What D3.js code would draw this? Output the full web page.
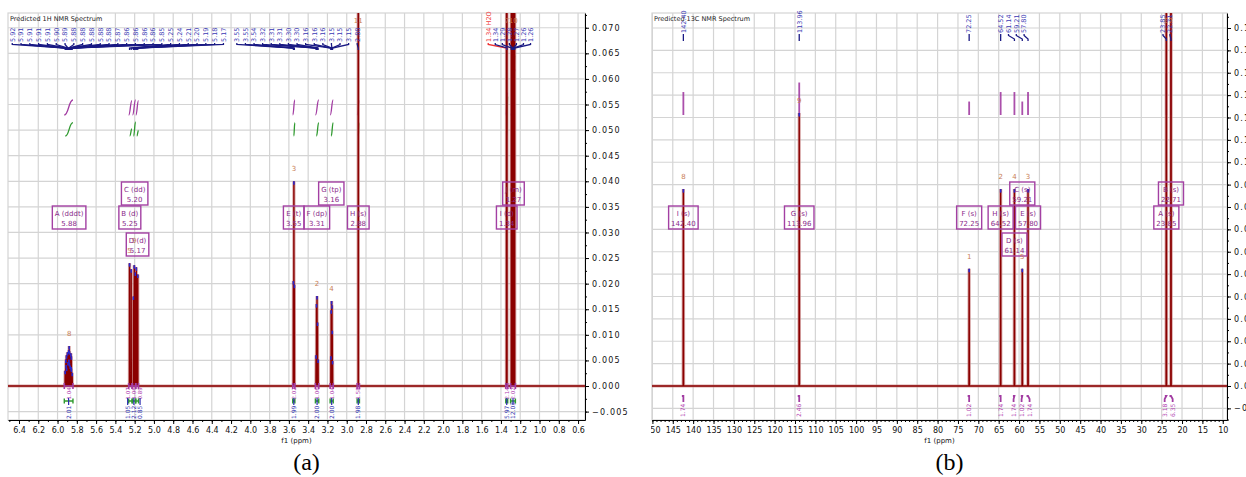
<!DOCTYPE html>
<html>
<head>
<meta charset="utf-8">
<title>Predicted 1H and 13C NMR spectra</title>
<script src="https://cdn.jsdelivr.net/npm/d3@7/dist/d3.min.js"></script>
<style>
  body { margin: 0; background: #fff; }
  svg { display: block; font-family: "DejaVu Sans", Verdana, sans-serif; }
</style>
</head>
<body>
<svg id="chart" width="1246" height="477"></svg>
<script>
// ---------- 1H: picked lines (ppm) and heights ----------
const hLinePpm = [
  5.921, 5.914, 5.911, 5.907, 5.906, 5.897, 5.891, 5.884, 5.882, 5.879, 5.877, 5.876, 5.869, 5.862, 5.859, 5.857, 5.856, 5.848,
  5.253, 5.236, 5.213, 5.204, 5.194, 5.183, 5.168,
  3.553, 3.548, 3.543,
  3.318, 3.313, 3.308, 3.303, 3.297,
  3.164, 3.161, 3.157, 3.153, 3.150, 3.147,
  2.880,
  1.342, 1.338, 1.292, 1.278, 1.272, 1.264, 1.258
];
const hLineHeight = [
  0.0030, 0.0052, 0.0041, 0.0060, 0.0036, 0.0066, 0.0047, 0.0070, 0.0052, 0.0078, 0.0045, 0.0068, 0.0040, 0.0064, 0.0037, 0.0058, 0.0034, 0.0026,
  0.0240, 0.0228, 0.0175, 0.0236, 0.0222, 0.0232, 0.0218,
  0.0205, 0.0400, 0.0198,
  0.0060, 0.0160, 0.0176, 0.0124, 0.0052,
  0.0058, 0.0148, 0.0166, 0.0158, 0.0108, 0.0049,
  0.300,
  0.120, 0.160, 0.100, 0.220, 0.300, 0.250, 0.150
];
const hWaterPpm = 1.342;

// ---------- 1H: multiplets and integrals ----------
const hMultName = ["A", "B", "C", "D", "E", "F", "G", "H", "I", "J"];
const hMultKind = ["dddt", "d", "dd", "d", "t", "dp", "tp", "s", "d", "m"];
const hMultPpm = [5.88, 5.25, 5.20, 5.17, 3.55, 3.31, 3.16, 2.88, 1.34, 1.27];
const hMultAtom = ["8", "5", "9", "", "3", "2", "4", "11", "7", "10"];
const hIntFrom = [5.930, 5.262, 5.222, 5.188, 3.560, 3.325, 3.172, 2.892, 1.350, 1.300];
const hIntTo = [5.840, 5.228, 5.190, 5.160, 3.538, 3.290, 3.140, 2.868, 1.330, 1.250];
const hIntMult = [1.04, 1.07, 1.06, 0.89, 2.02, 1.06, 1.04, 1.58, 2.14, 2.02];
const hIntTotal = [2.01, 1.05, 2.12, 0.85, 1.99, 2.00, 2.00, 1.98, 5.97, 12.03];
const hIntCurve = [2.0, 1.9, 2.0, 1.9, 2.0, 2.0, 2.0, 1.9, 3.0, 6.0];

// ---------- 13C: lines, multiplets, integrals ----------
const cLinePpm = [142.40, 113.96, 72.25, 64.52, 61.14, 59.21, 57.80, 23.85, 22.71];
const cLineHeight = [0.088, 0.122, 0.0524, 0.088, 0.088, 0.0524, 0.088, 0.35, 0.70];
const cMultName = ["I", "G", "F", "H", "D", "C", "E", "A", "B"];
const cMultAtom = ["8", "9", "1", "2", "4", "5", "3", "6", "7"];
const cIntVal = [1.74, 2.46, 1.02, 1.74, 1.74, 1.02, 1.74, 3.18, 6.35];

// ---------- axis ticks ----------
const hTicksX = d3.range(64, 5, -2).map(v => v / 10);
const hTicksXMinor = d3.range(65, 5, -1).map(v => v / 10);
const hTicksY = d3.range(-1, 15).map(v => +(v * 0.005).toFixed(3));
const hTicksYMinor = d3.range(-2, 30).map(v => +(v * 0.0025).toFixed(4));
const cTicksX = d3.range(150, 9, -5);
const cTicksXMinor = d3.range(150, 9, -1);
const cTicksY = d3.range(-1, 17).map(v => +(v * 0.01).toFixed(2));
const cTicksYMinor = d3.range(-3, 34).map(v => +(v * 0.005).toFixed(3));

// ---------- layout ----------
const hPanel = {
  id: "h", left: 8, right: 585, top: 13, bottom: 420,
  xDomain: [6.514, 0.528], yDomain: [0.07288, -0.00664],
  ticksX: hTicksX, ticksXMinor: hTicksXMinor, ticksY: hTicksY, ticksYMinor: hTicksYMinor,
  yFormat: d3.format(".3f"), xFormat: d3.format(".1f"),
  title: "Predicted 1H NMR Spectrum", tag: "(a)"
};
const cPanel = {
  id: "c", left: 652, right: 1227, top: 13, bottom: 420,
  xDomain: [150.1, 8.96], yDomain: [0.1667, -0.0152],
  ticksX: cTicksX, ticksXMinor: cTicksXMinor, ticksY: cTicksY, ticksYMinor: cTicksYMinor,
  yFormat: d3.format(".2f"), xFormat: d3.format("d"),
  title: "Predicted 13C NMR Spectrum", tag: "(b)"
};
// label runs for the peak-pick labels along the top (anchor in ppm, step in px)
const hPickRuns = [{ n: 25, at: 6.47, step: 8.8 }, { n: 15, at: 4.14, step: 8.6 }, { n: 7, at: 1.532, step: 7.05 }];
const cPickRuns = [{ n: 1 }, { n: 1 }, { n: 1 }, { n: 4, at: 64.51, step: 7.8 }, { n: 2, at: 24.67, step: 7 }];
const hBoxTier = [0, 0, 1, -1, 0, 0, 1, 0, 0, 1];
const cBoxTier = [0, 0, 0, 0, -1, 1, 0, 0, 1];
const tierTop = { "1": 182, "0": 206, "-1": 233 };

const RED = "#8b0000", RED_HALO = "#c98a8a";
const PICK_BLUE = "#3a3ab4", TREE_BLUE = "#1a1a84";
const PURPLE = "#a23ca2", GREEN = "#2f9a2f", ATOM = "#c97e56";

const svg = d3.select("#chart");
const defs = svg.append("defs");
const fmt2 = d3.format(".2f");

function setupPanel(p) {
  const x = d3.scaleLinear().domain(p.xDomain).range([p.left, p.right]);
  const y = d3.scaleLinear().domain(p.yDomain).range([p.top, p.bottom]);
  const g = svg.append("g");
  defs.append("clipPath").attr("id", "clip-" + p.id).append("rect")
    .attr("x", p.left).attr("y", p.top).attr("width", p.right - p.left).attr("height", p.bottom - p.top);
  defs.append("clipPath").attr("id", "axclip-" + p.id).append("rect")
    .attr("x", p.left - 1).attr("y", p.bottom - 2).attr("width", p.right - p.left + 12).attr("height", 40);

  // grid
  const grid = g.append("g").attr("stroke", "#d4d4d4").attr("stroke-width", 1.2).attr("fill", "none");
  grid.append("rect").attr("x", p.left).attr("y", p.top)
    .attr("width", p.right - p.left).attr("height", p.bottom - p.top);
  grid.selectAll("line.gx").data(p.ticksX).join("line").attr("class", "gx")
    .attr("x1", d => x(d)).attr("x2", d => x(d)).attr("y1", p.top).attr("y2", p.bottom);
  grid.selectAll("line.gy").data(p.ticksY).join("line").attr("class", "gy")
    .attr("x1", p.left).attr("x2", p.right).attr("y1", d => y(d)).attr("y2", d => y(d));

  g.append("text").attr("x", p.left + 2).attr("y", p.top + 7.5)
    .attr("font-size", 6.5).attr("fill", "#222").text(p.title);
  return { p, x, y, g };
}

function drawAxes(P) {
  const { p, x, y, g } = P;
  // x axis, clipped at the panel's left edge like the reference
  const ax = g.append("g").attr("clip-path", `url(#axclip-${p.id})`)
    .append("g").attr("transform", `translate(0,${p.bottom})`)
    .call(d3.axisBottom(x).tickValues(p.ticksX).tickSize(4).tickSizeOuter(0).tickFormat(p.xFormat));
  ax.attr("font-family", null).attr("font-size", null);
  ax.selectAll("text").attr("font-size", 8).attr("fill", "#111").attr("dy", "0.8em");
  g.append("g").attr("transform", `translate(0,${p.bottom})`)
    .call(d3.axisBottom(x).tickValues(p.ticksXMinor).tickSize(2).tickSizeOuter(0).tickFormat(""))
    .call(s => s.select(".domain").remove());

  const ay = g.append("g").attr("transform", `translate(${p.right},0)`)
    .call(d3.axisRight(y).tickValues(p.ticksY).tickSize(4).tickSizeOuter(0).tickFormat(p.yFormat));
  ay.attr("font-family", null).attr("font-size", null);
  ay.selectAll("text").attr("font-size", 8).attr("letter-spacing", 1.2).attr("fill", "#111");
  g.append("g").attr("transform", `translate(${p.right},0)`)
    .call(d3.axisRight(y).tickValues(p.ticksYMinor).tickSize(2).tickSizeOuter(0).tickFormat(""))
    .call(s => s.select(".domain").remove());

  const cx = (p.left + p.right) / 2;
  g.append("text").attr("x", cx).attr("y", p.bottom + 23).attr("text-anchor", "middle")
    .attr("font-size", 7).attr("fill", "#111").text("f1 (ppm)");
  g.append("text").attr("x", cx + 10).attr("y", 470).attr("text-anchor", "middle")
    .attr("font-family", '"Liberation Serif", "Times New Roman", serif')
    .attr("font-size", 24).attr("fill", "#000").text(p.tag);
}

function drawSpectrum(P, lines, halfWidth) {
  const { p, x, y, g } = P;
  const sorted = lines.slice().sort((a, b) => b.ppm - a.ppm);
  const pts = [[p.xDomain[0], 0]];
  sorted.forEach(l => pts.push([l.ppm + halfWidth, 0], [l.ppm, l.h], [l.ppm - halfWidth, 0]));
  pts.push([p.xDomain[1], 0]);
  const line = d3.line().x(d => x(d[0])).y(d => y(d[1]));
  const gs = g.append("g").attr("clip-path", `url(#clip-${p.id})`).attr("fill", "none");
  gs.append("path").attr("d", line(pts)).attr("stroke", RED_HALO).attr("stroke-width", 3.2).attr("opacity", 0.75);
  gs.append("path").attr("d", line(pts)).attr("stroke", RED).attr("stroke-width", 1.4);
  // peak-top pick marks
  gs.selectAll("line.pk").data(sorted.filter(l => y(l.h) > p.top + 2)).join("line").attr("class", "pk")
    .attr("x1", d => x(d.ppm)).attr("x2", d => x(d.ppm))
    .attr("y1", d => y(d.h)).attr("y2", d => y(d.h) + 3.5)
    .attr("stroke", "#2828d0").attr("stroke-width", 1.6);
}

function vtext(sel, x, yBottom, str, size, fill) {
  return sel.append("text").attr("transform", `translate(${x},${yBottom}) rotate(-90)`)
    .attr("dy", "0.35em").attr("font-size", size).attr("fill", fill).text(str);
}

function drawPicks(P, picks, runs, base) {
  const { x, g } = P;
  const gp = g.append("g").attr("fill", "none");
  let k = 0;
  runs.forEach(r => {
    for (let j = 0; j < r.n; j++, k++) {
      const pk = picks[k];
      pk.lx = r.at !== undefined ? x(r.at) + j * r.step : x(pk.ppm);
    }
  });
  picks.forEach(pk => {
    const px = x(pk.ppm);
    const water = pk.note !== "";
    gp.append("polyline")
      .attr("points", [[pk.lx, base + 1], [pk.lx, base + 2.5], [px, base + 6], [px, base + 8]].join(" "))
      .attr("stroke", water ? "#f03030" : TREE_BLUE).attr("stroke-width", 1.3);
    vtext(gp, pk.lx, base, water ? `${fmt2(pk.ppm)} ${pk.note}` : fmt2(pk.ppm), 6.5,
      water ? "#f04040" : PICK_BLUE);
  });
}

function drawMultiplets(P, mults, lines) {
  const { p, x, y, g } = P;
  const gb = g.append("g");
  const placed = [];
  mults.forEach(m => {
    // atom assignment label above the tallest line of the multiplet
    const inside = lines.filter(l => l.ppm <= m.from && l.ppm >= m.to);
    const top = d3.greatest(inside, l => l.h);
    if (m.atom && top) {
      const ax = x(top.ppm);
      let ay = Math.max(y(top.h) - 10, p.top + 10);
      if (ay > p.top + 12) {
        while (placed.some(q => Math.abs(q[0] - ax) < 6 && Math.abs(q[1] - ay) < 6)) ay -= 6;
      }
      placed.push([ax, ay]);
      gb.append("text").attr("x", ax).attr("y", ay)
        .attr("text-anchor", "middle").attr("font-size", 7).attr("fill", ATOM).text(m.atom);
    }
    // multiplet box
    const bx = x(m.ppm), by = tierTop[m.tier];
    const box = gb.append("g");
    const t1 = box.append("text").attr("x", bx).attr("y", by + 9.5).attr("text-anchor", "middle")
      .attr("font-size", 7).attr("fill", "#8a2a8a").text(`${m.name} (${m.kind})`);
    const t2 = box.append("text").attr("x", bx).attr("y", by + 19.5).attr("text-anchor", "middle")
      .attr("font-size", 7).attr("fill", "#8a2a8a").text(fmt2(m.ppm));
    const w = Math.max(t1.node().getComputedTextLength(), t2.node().getComputedTextLength()) + 5;
    box.insert("rect", "text").attr("x", bx - w / 2).attr("y", by).attr("width", w).attr("height", 23)
      .attr("fill", "none").attr("stroke", "#a340a3").attr("stroke-width", 1.4);
  });
}

function dodge(xs, gap) {
  const order = d3.range(xs.length).sort((a, b) => xs[a] - xs[b]);
  const pos = order.map(i => xs[i]);
  for (let it = 0; it < 80; it++) {
    for (let k = 0; k < pos.length - 1; k++) {
      const d = pos[k + 1] - pos[k];
      if (d < gap) { const s = (gap - d) / 2; pos[k] -= s; pos[k + 1] += s; }
    }
  }
  const out = new Array(xs.length);
  order.forEach((i, k) => { out[i] = pos[k]; });
  return out;
}

function sCurve(x0, x1, yb, yt) {
  const xm = (x0 + x1) / 2;
  return `M${x0},${yb}C${xm},${yb} ${xm},${yt} ${x1},${yt}`;
}

// ================= 1H panel =================
const HP = setupPanel(hPanel);
const hLines = hLinePpm.map((ppm, i) => ({ ppm, h: hLineHeight[i] }));
const hPicks = hLines.map(l => ({ ppm: l.ppm, note: l.ppm === hWaterPpm ? "H2O" : "" }))
  .sort((a, b) => b.ppm - a.ppm);
const hMults = hMultName.map((name, i) => ({
  name, kind: hMultKind[i], ppm: hMultPpm[i], atom: hMultAtom[i],
  from: hIntFrom[i], to: hIntTo[i], mult: hIntMult[i], total: hIntTotal[i],
  curve: hIntCurve[i], tier: hBoxTier[i]
}));

// integral curves (purple: multiplet integrals, green: total integrals)
{
  const { x, g } = HP;
  const gi = g.append("g").attr("fill", "none").attr("stroke-width", 1.3);
  hMults.forEach(m => {
    gi.append("path").attr("d", sCurve(x(m.from), x(m.to), 115, 115 - m.curve * 7.5)).attr("stroke", PURPLE);
    gi.append("path").attr("d", sCurve(x(m.from) + 1, x(m.to), 136, 136 - m.total * 6.65)).attr("stroke", GREEN);
  });
}
drawSpectrum(HP, hLines, 0.0012);

// range markers and integral values under the baseline
{
  const { x, y, g } = HP;
  const y0 = y(0);
  const gu = g.append("g").attr("fill", "none");
  const centers = hMults.map(m => x((m.from + m.to) / 2));
  const lx = dodge(centers, 6.2);
  hMults.forEach((m, i) => {
    const a = x(m.from), b = x(m.to);
    gu.append("path").attr("d", `M${a},${y0 - 3}V${y0 + 3}M${a},${y0}H${b}M${b},${y0 - 3}V${y0 + 3}`)
      .attr("stroke", PURPLE).attr("stroke-width", 1.6);
    vtext(gu, lx[i], 399.5, fmt2(m.mult), 5.5, "#b040b0");
    gu.append("path").attr("d", `M${a},398.5V403.5M${a},401H${b}M${b},398.5V403.5`)
      .attr("stroke", GREEN).attr("stroke-width", 1.4);
    gu.append("line").attr("x1", lx[i]).attr("x2", lx[i]).attr("y1", 398).attr("y2", 405)
      .attr("stroke", "#2a2ab0").attr("stroke-width", 1.2);
    vtext(gu, lx[i], 419, fmt2(m.total), 6, "#3030b0");
  });
}
drawMultiplets(HP, hMults, hLines);
drawPicks(HP, hPicks, hPickRuns, 42);
drawAxes(HP);

// ================= 13C panel =================
const CP = setupPanel(cPanel);
const cLines = cLinePpm.map((ppm, i) => ({ ppm, h: cLineHeight[i] }));
const cPicks = cLines.map(l => ({ ppm: l.ppm, note: "" })).sort((a, b) => b.ppm - a.ppm);
const cMults = cMultName.map((name, i) => ({
  name, kind: "s", ppm: cLinePpm[i], atom: cMultAtom[i],
  from: cLinePpm[i] + 0.3, to: cLinePpm[i] - 0.3, val: cIntVal[i], tier: cBoxTier[i]
}));

{
  const { x, g } = CP;
  const gi = g.append("g");
  cMults.forEach(m => {
    gi.append("line").attr("x1", x(m.ppm)).attr("x2", x(m.ppm))
      .attr("y1", 115).attr("y2", 115 - m.val * 13.2)
      .attr("stroke", PURPLE).attr("stroke-width", 1.8).attr("opacity", 0.9);
  });
}
drawSpectrum(CP, cLines, 0.05);
{
  const { x, g } = CP;
  const gu = g.append("g").attr("fill", "none");
  const px = cMults.map(m => x(m.ppm));
  const lx = dodge(px, 8);
  cMults.forEach((m, i) => {
    gu.append("polyline")
      .attr("points", [[px[i] - 1.5, 396], [px[i], 396], [lx[i], 399], [lx[i], 402]].join(" "))
      .attr("stroke", PURPLE).attr("stroke-width", 1.8);
    vtext(gu, lx[i], 417, fmt2(m.val), 6, "#b040b0");
  });
}
drawMultiplets(CP, cMults, cLines);
drawPicks(CP, cPicks, cPickRuns, 33);
drawAxes(CP);
</script>
</body>
</html>
